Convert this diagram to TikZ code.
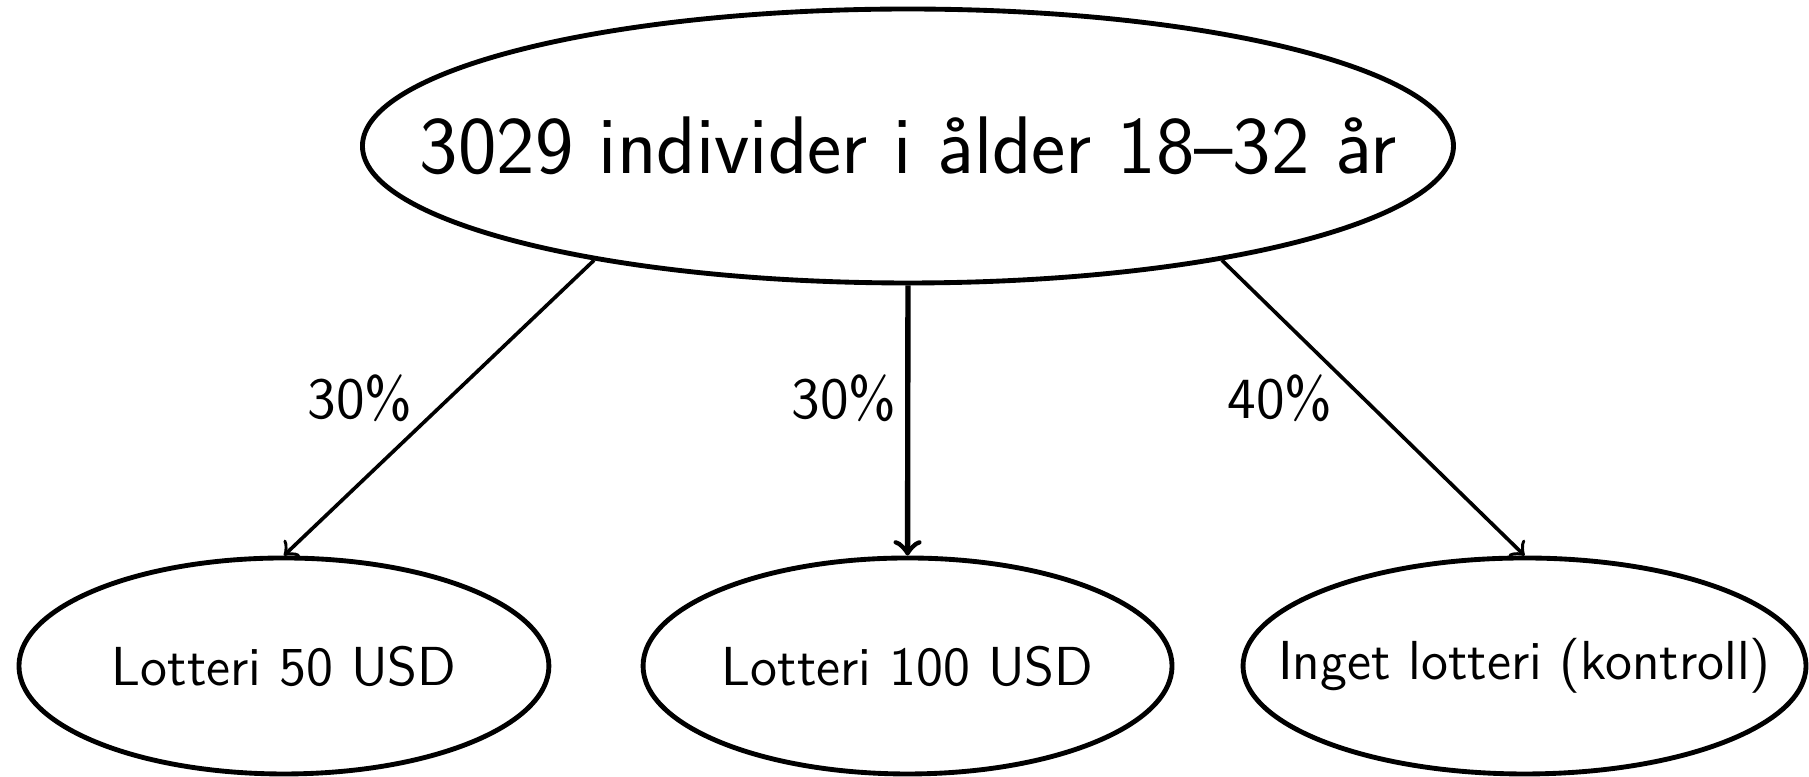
\documentclass[tikz,border=0pt]{standalone}
\usetikzlibrary{shapes.geometric}
\begin{document}
\begin{tikzpicture}[font=\sffamily]
\tikzset{grp/.style={draw, ellipse, line width=1pt, inner xsep=-30pt, inner ysep=0pt, font=\sffamily\fontsize{11.3}{13}\selectfont},
  share/.style={font=\sffamily\large, inner sep=0pt}}
\useasboundingbox (0,0) rectangle (13.074,5.615);
% population
\node[grp, minimum width=7.885cm, minimum height=1.98cm, font=\sffamily\fontsize{16.8}{19}\selectfont] (top) at (6.562,4.56) {3029 individer i ålder 18--32 år};
% groups
\node[grp, minimum width=3.83cm, minimum height=1.561cm] (left) at (2.052,.802) {Lotteri 50 USD};
\node[grp, minimum width=3.823cm, minimum height=1.561cm] (mid) at (6.559,.802) {Lotteri 100 USD};
\node[grp, minimum width=4.069cm, minimum height=1.561cm] (right) at (11.018,.802) {Inget lotteri (kontroll)};
% arrows
\draw[->, line width=.75pt] (top.200.5) -- (left.north);
\draw[->, line width=1.1pt] (top.south) -- (mid.north);
\draw[->, line width=.75pt] (top.-20.5) -- (right.north);
\node[share] (s1) at (2.602,2.739) {30\%};
\node[share] (s2) at (6.1,2.739) {30\%};
\node[share] (s3) at (9.251,2.739) {40\%};
\end{tikzpicture}
\end{document}
